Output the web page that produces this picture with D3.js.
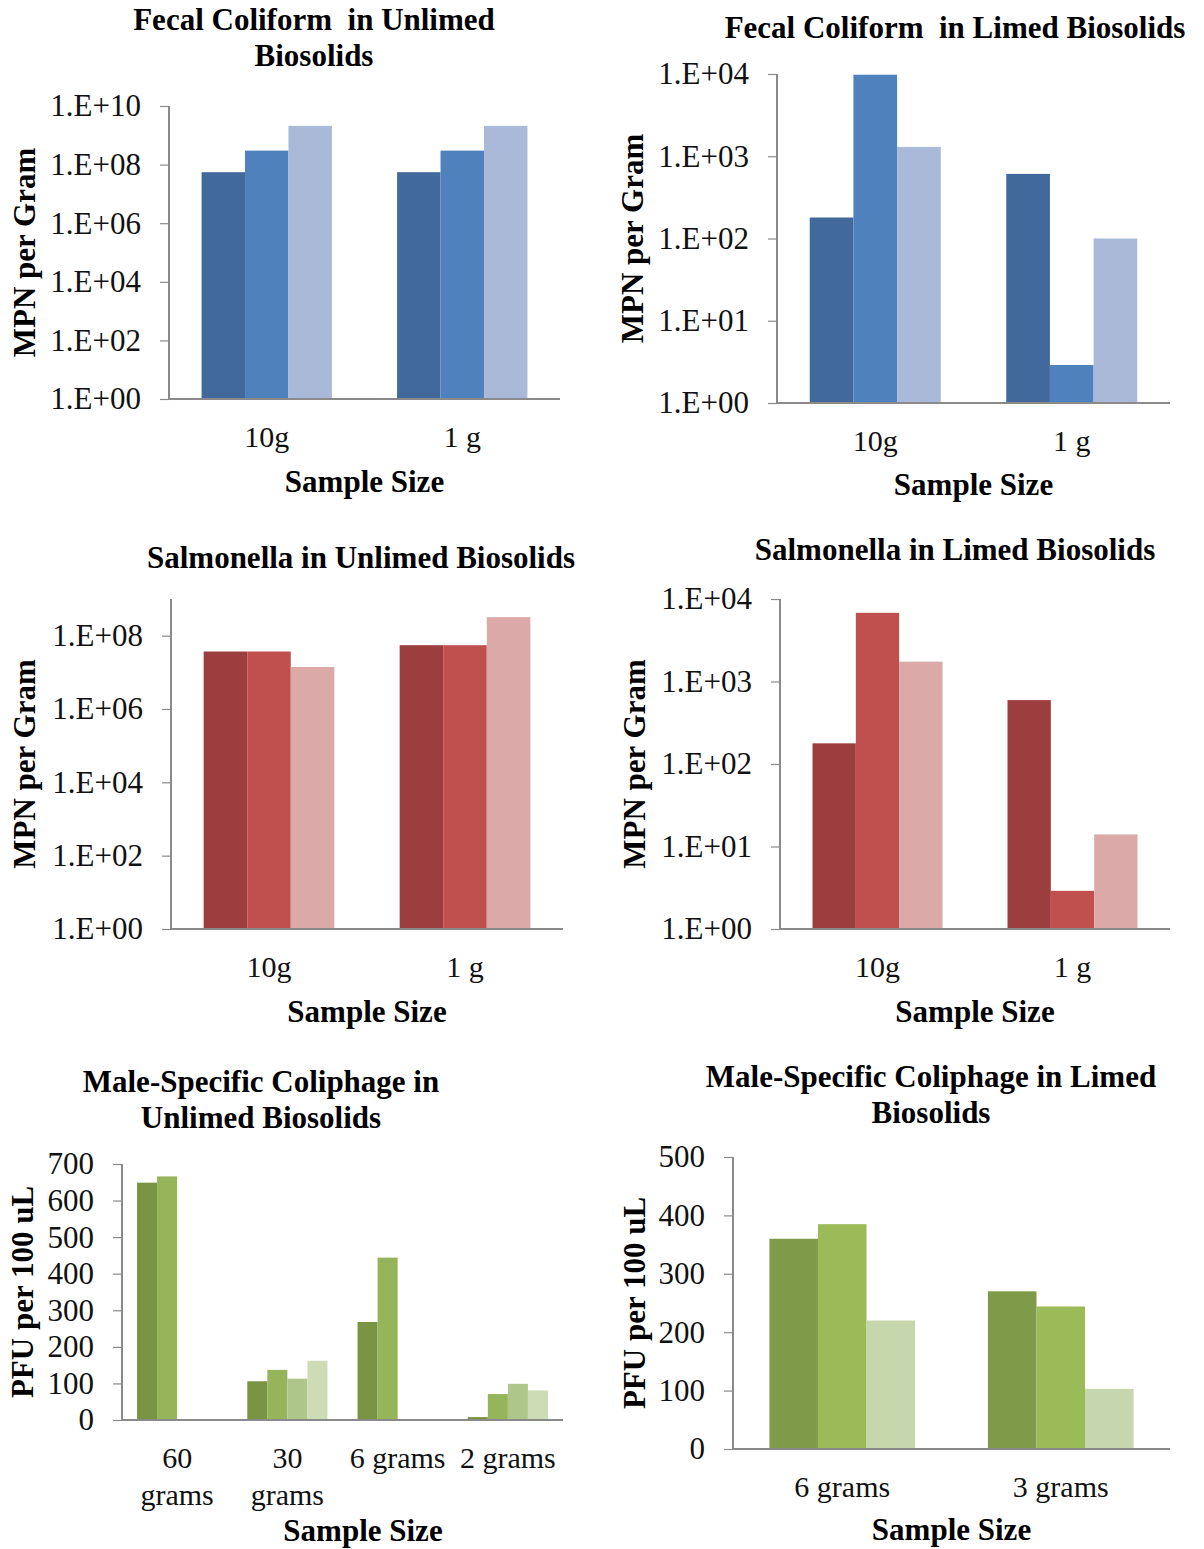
<!DOCTYPE html>
<html lang="en">
<head>
  <meta charset="UTF-8">
  <title>Indicator organisms in biosolids</title>
  <script src="https://d3js.org/d3.v7.min.js"></script>
  <style>
    body { margin: 0; background: #fff; }
    svg { font-family: "Liberation Serif", "Times New Roman", serif; }
    .tick-label { font-size: 31px; fill: #111; }
    .cat-label { font-size: 30px; fill: #111; }
    .title, .axis-title { font-size: 31px; font-weight: bold; fill: #000; white-space: pre; }
    .axis-line { stroke: #8a8a8a; stroke-width: 1.2; fill: none; shape-rendering: crispEdges; }
  </style>
</head>
<body>
<svg width="1204" height="1549"></svg>
<script>
// ---- data ----
const gramCats = ["10g", "1 g"];

// three replicate series, each value per category
const fecalUnlimedSeries = [[5.5e7, 5.5e7], [3.0e8, 3.0e8], [2.1e9, 2.1e9]];
const fecalLimedSeries   = [[180, 610], [9800, 2.9], [1300, 100]];
const salmUnlimedSeries  = [[3.7e7, 5.5e7], [3.7e7, 5.5e7], [1.4e7, 3.2e8]];
const salmLimedSeries    = [[178, 595], [6800, 2.9], [1740, 14]];

const phageUnlimedCats   = [["60", "grams"], ["30", "grams"], ["6 grams"], ["2 grams"]];
const phageUnlimedSeries = [[649, 106, 268, 8], [666, 137, 444, 71], [0, 113, 0, 99], [0, 162, 0, 81]];

const phageLimedCats   = [["6 grams"], ["3 grams"]];
const phageLimedSeries = [[360, 270], [385, 244], [220, 103]];

// tick values
const logTicksEven  = [1, 1e2, 1e4, 1e6, 1e8, 1e10];
const logTicksEven9 = [1, 1e2, 1e4, 1e6, 1e8];
const logTicksAll   = [1, 1e1, 1e2, 1e3, 1e4];
const pfuTicks700   = [0, 100, 200, 300, 400, 500, 600, 700];
const pfuTicks500   = [0, 100, 200, 300, 400, 500];

const blues  = ["#41699B", "#4F81BD", "#AAB9D7"];
const reds   = ["#9C3E3D", "#C0504D", "#DAA9A8"];
const greens4 = ["#7A9444", "#96B45A", "#AEC689", "#CEDCB6"];
const greens3 = ["#7F9A48", "#9BBB59", "#C6D6AD"];

const svg = d3.select("svg");
const expFmt = v => "1.E+" + String(Math.round(Math.log10(v))).padStart(2, "0");

function drawChart(c) {
  const g = svg.append("g");

  const x = d3.scaleBand()
    .domain(d3.range(c.cats.length))
    .range([c.x0, c.x1]);

  // Excel style: gap width 150% of a bar
  const nSer = c.series.length;
  const barW = x.bandwidth() / (nSer + 1.5);
  const groupOff = (x.bandwidth() - barW * nSer) / 2;

  const y = c.log
    ? d3.scaleLog().domain(c.domain).range([c.yBot, c.yTop])
    : d3.scaleLinear().domain(c.domain).range([c.yBot, c.yTop]);

  // bars
  c.series.forEach((vals, s) => {
    g.selectAll(null)
      .data(vals.map((v, i) => ({ i, v })).filter(d => d.v > 0))
      .enter()
      .append("rect")
      .attr("x", d => x(d.i) + groupOff + s * barW)
      .attr("y", d => y(d.v))
      .attr("width", barW)
      .attr("height", d => y(c.domain[0]) - y(d.v))
      .attr("fill", c.colors[s]);
  });

  // y axis
  const yAxis = g.append("g")
    .attr("transform", `translate(${c.x0},0)`)
    .call(d3.axisLeft(y).tickValues(c.ticks).tickFormat(c.fmt).tickSize(9).tickPadding(19))
    .attr("font-family", null)
    .attr("font-size", null);
  yAxis.select(".domain").attr("class", "axis-line")
    .attr("d", `M0,${c.yTop}V${c.yBot}`);
  yAxis.selectAll(".tick line").attr("stroke", "#8a8a8a").attr("stroke-width", 1.2);
  yAxis.selectAll(".tick text").attr("class", "tick-label");

  // x axis line
  g.append("line").attr("class", "axis-line")
    .attr("x1", c.x0).attr("x2", c.x1)
    .attr("y1", c.yBot).attr("y2", c.yBot);

  // category labels
  c.cats.forEach((lab, i) => {
    const lines = Array.isArray(lab) ? lab : [lab];
    lines.forEach((ln, k) => {
      g.append("text").attr("class", "cat-label")
        .attr("x", x(i) + x.bandwidth() / 2)
        .attr("y", c.yBot + 48 + k * 37)
        .attr("text-anchor", "middle")
        .text(ln);
    });
  });

  // titles
  c.title.forEach((ln, k) => {
    g.append("text").attr("class", "title")
      .attr("x", c.titleX).attr("y", c.titleY + k * 36)
      .attr("text-anchor", "middle").text(ln);
  });

  g.append("text").attr("class", "axis-title")
    .attr("x", c.xTitleX == null ? (c.x0 + c.x1) / 2 : c.xTitleX)
    .attr("y", c.xTitleY)
    .attr("text-anchor", "middle").text("Sample Size");

  g.append("text").attr("class", "axis-title")
    .attr("transform", `translate(${c.yTitleX},${(c.yTop + c.yBot) / 2}) rotate(-90)`)
    .attr("dy", "0.35em")
    .attr("text-anchor", "middle").text(c.yTitle);
}

drawChart({
  cats: gramCats, series: fecalUnlimedSeries, colors: blues,
  log: true, domain: [1, 1e10], ticks: logTicksEven, fmt: expFmt,
  x0: 169, x1: 560, yTop: 106, yBot: 399,
  title: ["Fecal Coliform  in Unlimed", "Biosolids"], titleX: 314, titleY: 30,
  xTitleY: 492, yTitle: "MPN per Gram", yTitleX: 24
});

drawChart({
  cats: gramCats, series: fecalLimedSeries, colors: blues,
  log: true, domain: [1, 1e4], ticks: logTicksAll, fmt: expFmt,
  x0: 777, x1: 1170, yTop: 74, yBot: 403,
  title: ["Fecal Coliform  in Limed Biosolids"], titleX: 955, titleY: 38,
  xTitleY: 495, yTitle: "MPN per Gram", yTitleX: 632
});

drawChart({
  cats: gramCats, series: salmUnlimedSeries, colors: reds,
  log: true, domain: [1, 1e9], ticks: logTicksEven9, fmt: expFmt,
  x0: 171, x1: 563, yTop: 599, yBot: 929,
  title: ["Salmonella in Unlimed Biosolids"], titleX: 361, titleY: 568,
  xTitleY: 1022, yTitle: "MPN per Gram", yTitleX: 24
});

drawChart({
  cats: gramCats, series: salmLimedSeries, colors: reds,
  log: true, domain: [1, 1e4], ticks: logTicksAll, fmt: expFmt,
  x0: 780, x1: 1170, yTop: 599, yBot: 929,
  title: ["Salmonella in Limed Biosolids"], titleX: 955, titleY: 560,
  xTitleY: 1022, yTitle: "MPN per Gram", yTitleX: 634
});

drawChart({
  cats: phageUnlimedCats, series: phageUnlimedSeries, colors: greens4,
  log: false, domain: [0, 700], ticks: pfuTicks700, fmt: d3.format("d"),
  x0: 122, x1: 563, yTop: 1164, yBot: 1420,
  title: ["Male-Specific Coliphage in", "Unlimed Biosolids"], titleX: 261, titleY: 1092,
  xTitleX: 363, xTitleY: 1541, yTitle: "PFU per 100 uL", yTitleX: 22
});

drawChart({
  cats: phageLimedCats, series: phageLimedSeries, colors: greens3,
  log: false, domain: [0, 500], ticks: pfuTicks500, fmt: d3.format("d"),
  x0: 733, x1: 1170, yTop: 1157, yBot: 1449,
  title: ["Male-Specific Coliphage in Limed", "Biosolids"], titleX: 931, titleY: 1087,
  xTitleY: 1540, yTitle: "PFU per 100 uL", yTitleX: 634
});
</script>
</body>
</html>
